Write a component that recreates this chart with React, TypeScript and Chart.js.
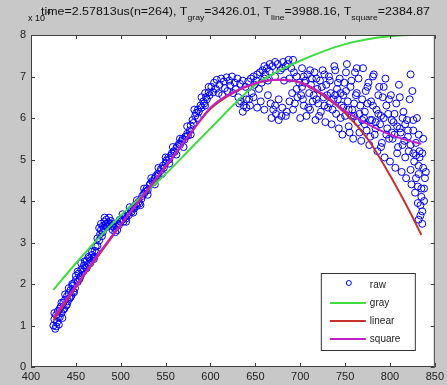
import { useEffect, useRef } from "react";
import { Chart, registerables } from "chart.js";

Chart.register(...registerables);

const rawX = [
  425, 426, 427, 428, 429, 430, 431, 432, 433, 434, 435, 436, 437, 438, 439, 440, 441, 442, 443, 444, 445, 446, 447, 448, 449, 450,
  452, 453, 455, 456, 458, 459, 461, 462, 464, 465, 467, 468, 470, 471, 473, 474, 476, 477, 478, 479, 480, 481, 482, 483, 484, 485,
  486, 487, 488, 489, 490, 491, 492, 493, 494, 495, 496, 497, 498, 499,
  500, 502, 503, 505, 506, 508, 509, 511, 512, 514, 515, 517, 518, 520, 521, 523, 524, 526, 527, 529, 530, 532, 533, 535, 536, 538,
  539, 541, 542, 544, 545, 547, 548, 550, 551, 553, 554, 556, 557, 559, 560, 562, 563, 565, 566, 568, 569, 571, 572, 574, 575, 577,
  578, 580, 581, 583, 584, 586, 587, 589, 590, 592, 593, 595, 596, 598, 599,
  601, 603, 604, 606, 607, 609, 610, 612, 613, 615, 616, 618, 619, 621, 622, 624, 625, 627, 628, 630, 631, 633, 634, 636, 637, 639,
  640, 642, 643, 645, 646, 648, 649, 651, 652, 654, 655, 657, 658, 660, 661, 663, 664, 666, 667, 669, 670, 672, 673, 675, 676, 678,
  679, 681, 682, 684, 685, 687, 688, 690, 691, 693, 694, 696, 697, 699,
  701, 702, 704, 705, 707, 708, 710, 711, 713, 714, 716, 717, 719, 720, 722, 723, 725, 726, 728, 729, 731, 732, 734, 735, 737, 738,
  740, 741, 743, 744, 746, 747, 749, 750, 752, 753, 755, 756, 758, 759, 761, 762, 764, 765, 767, 768, 770, 771, 773, 774, 776, 777,
  779, 780, 782, 783, 785, 786, 788, 789, 791, 792, 794, 795, 797, 798, 800, 801, 803, 804, 806, 807, 809, 810, 812, 813, 815, 816,
  818, 819, 821, 822, 823, 824, 825, 826, 827, 828, 829, 830, 831, 832, 833, 834, 835, 836, 837, 838,
  742, 748, 754, 760, 766, 772, 778, 784, 790, 796, 802, 808, 814, 820, 826, 832,
  702, 703, 706, 709, 712, 715, 718, 721, 724, 727, 730, 733, 736, 739, 742, 745, 748, 751, 754, 757, 760, 763, 766, 769, 772, 775,
  778, 781, 784, 787, 790, 793, 796, 799, 802, 805, 808, 811, 814, 817, 820, 823, 826, 829, 832, 835, 837, 834, 831, 836, 833, 839,
  704, 711, 718, 727, 733, 739, 745, 751, 757, 763, 769, 775, 781, 787, 793, 799, 805, 811, 817, 823, 829, 836, 838, 840, 832,
  426, 428, 430, 432, 434, 436, 438, 440, 442, 444, 446, 448, 450, 452, 454, 456, 458, 460, 462, 464, 466, 468, 470, 472, 474, 476,
  478, 480, 482, 484,
  502, 506, 510, 514, 518, 522, 526, 530, 534, 538, 542, 546, 550, 554, 558, 562, 566, 570, 574, 578, 582, 586, 590, 594, 598, 594,
  632, 636, 640, 644, 648, 652, 656, 660, 664, 668, 672, 676, 680, 684, 688, 692, 696, 700, 660, 666, 672, 680, 686, 692,
];
const rawY = [
  1.0, 1.15, 0.92, 1.25, 1.08, 1.35, 1.02, 1.2, 1.45, 1.3, 1.18, 1.55, 1.4, 1.62, 1.48, 1.7, 1.58, 1.78, 1.65, 1.85, 1.72, 1.95, 1.82, 2.02, 1.9, 2.1,
  2.05, 2.25, 2.18, 2.35, 2.3, 2.45, 2.4, 2.55, 2.48, 2.62, 2.58, 2.7, 2.65, 2.8, 2.75, 2.92, 3.05, 3.2, 3.3, 3.15, 3.4, 3.35, 3.5, 3.42, 3.55, 3.38,
  3.48, 3.6, 3.45, 3.52, 3.4, 3.3, 3.45, 3.35, 3.25, 3.38, 3.3, 3.45, 3.42, 3.55,
  3.5, 3.55, 3.5, 3.62, 3.58, 3.7, 3.66, 3.78, 3.74, 3.85, 3.82, 3.92, 3.88, 3.98, 3.94, 4.05, 4.12, 4.18, 4.22, 4.3, 4.26, 4.38, 4.42, 4.48, 4.45, 4.55,
  4.6, 4.65, 4.62, 4.72, 4.78, 4.85, 4.8, 4.92, 4.98, 5.05, 5.0, 5.1, 5.15, 5.2, 5.18, 5.28, 5.32, 5.38, 5.35, 5.45, 5.5, 5.48, 5.55, 5.62, 5.58, 5.7,
  5.82, 5.95, 5.88, 6.05, 6.12, 6.2, 6.15, 6.3, 6.25, 6.4, 6.35, 6.5, 6.45, 6.62, 6.55,
  6.75, 6.62, 6.85, 6.7, 6.92, 6.6, 6.8, 6.95, 6.55, 6.88, 6.72, 6.98, 6.65, 6.9, 6.78, 7.0, 6.6, 6.85, 6.7, 6.95, 6.5, 6.82, 6.4, 6.9, 6.3, 6.75,
  6.25, 6.88, 6.45, 6.95, 6.6, 7.0, 6.8, 6.9, 7.05, 6.7, 7.1, 6.85, 7.15, 6.95, 7.05, 7.2, 6.9, 7.12, 6.35, 7.25, 6.2, 7.0, 6.1, 7.3, 6.45, 7.15,
  6.05, 7.35, 6.9, 7.25, 6.15, 7.4, 6.95, 7.2, 6.6, 7.1, 6.35, 7.0, 6.5, 6.85,
  6.55, 7.2, 6.3, 6.85, 6.05, 7.05, 6.6, 6.2, 6.95, 6.4, 7.1, 5.95, 6.7, 6.35, 6.9, 6.15, 7.15, 6.5, 5.9, 6.8, 6.25, 7.0, 6.6, 5.85, 6.45, 7.25,
  6.1, 6.7, 5.75, 6.95, 6.3, 5.6, 6.85, 6.05, 7.3, 6.4, 5.65, 6.75, 6.2, 5.5, 7.1, 6.55, 5.9, 6.95, 6.3, 5.45, 7.2, 6.0, 6.65, 5.7, 6.85, 5.35,
  6.4, 5.95, 7.05, 5.6, 6.2, 5.2, 6.75, 5.85, 5.4, 6.5, 5.05, 6.95, 5.75, 6.1, 4.95, 6.55, 5.5, 5.9, 4.8, 6.35, 5.3, 6.8, 5.65, 4.7, 6.15, 5.45,
  4.55, 5.95, 5.2, 6.45, 7.05, 4.4, 6.65, 5.7, 4.95, 4.2, 5.4, 6.0, 3.95, 4.65, 5.2, 3.65, 4.3, 3.45, 5.5, 4.0,
  6.45, 6.55, 6.2, 6.05, 6.1, 5.85, 5.95, 5.75, 6.05, 5.6, 5.65, 5.8, 5.35, 5.55, 5.15, 4.85,
  6.75, 6.45, 6.9, 6.25, 6.8, 6.55, 6.95, 6.05, 6.75, 6.3, 6.55, 6.9, 6.2, 6.55, 6.85, 6.0, 6.25, 6.65, 5.8, 6.9, 6.35, 6.6, 5.65, 6.45, 6.15, 6.75,
  5.55, 6.3, 5.9, 6.55, 5.3, 6.0, 6.3, 5.5, 5.95, 6.1, 5.15, 5.75, 6.0, 5.05, 5.7, 4.75, 5.95, 4.55, 5.6, 4.1, 4.8, 3.9, 4.35, 3.75, 5.05, 4.55,
  7.0, 7.15, 6.45, 7.05, 6.35, 7.15, 6.6, 7.1, 6.05, 7.2, 5.95, 6.35, 7.0, 6.1, 6.75, 6.45, 5.6, 6.5, 5.85, 5.35, 5.1, 5.15, 4.3, 4.7, 3.55,
  1.3, 0.98, 1.2, 1.4, 1.55, 1.38, 1.75, 1.5, 1.9, 1.68, 2.0, 1.8, 2.2, 2.3, 2.12, 2.5, 2.38, 2.55, 2.38, 2.65, 2.5, 2.78, 2.6, 2.9, 3.1, 3.35,
  3.45, 3.25, 3.6, 3.45,
  3.68, 3.5, 3.85, 3.72, 4.02, 3.9, 4.3, 4.15, 4.55, 4.4, 4.8, 4.65, 5.05, 4.9, 5.3, 5.12, 5.5, 5.3, 5.8, 5.6, 6.2, 6.0, 6.5, 6.3, 6.75, 6.6,
  6.35, 6.15, 6.45, 6.3, 6.5, 6.25, 6.4, 6.2, 6.55, 6.0, 6.3, 5.95, 6.25, 6.05, 6.4, 6.2, 6.7, 6.0, 7.25, 7.3, 7.35, 7.2, 7.3, 7.4,
];

const fitX = [425, 450, 475, 500, 525, 550, 575, 600, 625, 650, 675, 700, 725, 750, 775, 800, 825, 835];
const linearY = [1.12, 1.92, 2.68, 3.42, 4.12, 4.82, 5.55, 6.22, 6.6, 6.83, 6.92, 6.85, 6.55, 6.12, 5.5, 4.62, 3.62, 3.18];
const squareY = [1.2, 1.96, 2.72, 3.44, 4.14, 4.84, 5.55, 6.25, 6.62, 6.84, 6.92, 6.86, 6.58, 6.17, 5.85, 5.6, 5.43, 5.38];
const grayX = [425, 450, 475, 500, 525, 550, 575, 600, 625, 650, 675, 700, 725, 750, 775, 800, 825, 840];
const grayY = [1.86, 2.5, 3.1, 3.65, 4.15, 4.65, 5.2, 5.75, 6.3, 6.8, 7.12, 7.38, 7.6, 7.78, 7.9, 7.97, 8.0, 8.0];

const xTicks = [400, 450, 500, 550, 600, 650, 700, 750, 800, 850];
const yTicks = [0, 1, 2, 3, 4, 5, 6, 7, 8];

const seriesLabels = ["raw", "gray", "linear", "square"];
const seriesColors = ["#0000ff", "#3fdc3f", "#c8302c", "#c020c8"];

const titleParts: [string, boolean][] = [
  ["time=2.57813us(n=264), T", false],
  ["gray", true],
  ["=3426.01, T", false],
  ["line", true],
  ["=3988.16, T", false],
  ["square", true],
  ["=2384.87", false],
];
const expLabel = "x 10";
const expSup = "4";

const FONT = "'Liberation Sans', Arial, sans-serif";

export default function App() {
  const ref = useRef<HTMLCanvasElement | null>(null);
  useEffect(() => {
    const canvas = ref.current;
    if (!canvas) return;
    const rawPts = rawX.map((x, i) => ({ x, y: rawY[i] }));
    const linPts = fitX.map((x, i) => ({ x, y: linearY[i] }));
    const sqPts = fitX.map((x, i) => ({ x, y: squareY[i] }));
    const grPts = grayX.map((x, i) => ({ x, y: grayY[i] }));

    const decor = {
      id: "decor",
      beforeDraw(chart: any) {
        const { ctx, chartArea: a, width, height } = chart;
        ctx.save();
        ctx.fillStyle = "#c8c8c8";
        ctx.fillRect(0, 0, width, height);
        ctx.fillStyle = "#ffffff";
        ctx.fillRect(a.left, a.top, a.right - a.left, a.bottom - a.top);
        ctx.restore();
      },
      afterDraw(chart: any) {
        const { ctx, chartArea: a } = chart;
        const xs = chart.scales.x;
        const ys = chart.scales.y;
        ctx.save();
        ctx.strokeStyle = "#404040";
        ctx.lineWidth = 1;
        ctx.strokeRect(a.left + 0.5, a.top + 0.5, a.right - a.left - 1, a.bottom - a.top - 1);
        ctx.beginPath();
        const tl = 4;
        xTicks.forEach((v) => {
          const px = Math.round(xs.getPixelForValue(v)) + 0.5;
          ctx.moveTo(px, a.bottom);
          ctx.lineTo(px, a.bottom - tl);
          ctx.moveTo(px, a.top);
          ctx.lineTo(px, a.top + tl);
        });
        yTicks.forEach((v) => {
          const py = Math.round(ys.getPixelForValue(v)) + 0.5;
          ctx.moveTo(a.left, py);
          ctx.lineTo(a.left + tl, py);
          ctx.moveTo(a.right, py);
          ctx.lineTo(a.right - tl, py);
        });
        ctx.stroke();

        // title with subscripts
        const mainF = `10px ${FONT}`;
        const subF = `7px ${FONT}`;
        let total = 0;
        titleParts.forEach(([t, s]) => {
          ctx.font = s ? subF : mainF;
          total += ctx.measureText(t).width;
        });
        const targetW = 389;
        const startX = 41;
        const sx = targetW / total;
        ctx.translate(startX, 0);
        ctx.scale(sx, 1);
        let cx = 0;
        ctx.fillStyle = "#111";
        ctx.textBaseline = "alphabetic";
        titleParts.forEach(([t, s]) => {
          ctx.font = s ? subF : mainF;
          ctx.fillText(t, cx, s ? 20 : 15);
          cx += ctx.measureText(t).width;
        });
        ctx.setTransform(1, 0, 0, 1, 0, 0);

        // exponent label
        ctx.font = `9px ${FONT}`;
        ctx.fillText(expLabel, 28, 21);
        ctx.font = `7px ${FONT}`;
        ctx.fillText(expSup, 47, 14);

        // legend
        const lw = 94, lh = 77;
        const lx = a.right - 20 - lw;
        const ly = a.bottom - 17 - lh;
        ctx.fillStyle = "#ffffff";
        ctx.fillRect(lx, ly, lw, lh);
        ctx.strokeStyle = "#333";
        ctx.strokeRect(lx + 0.5, ly + 0.5, lw, lh);
        ctx.font = `10px ${FONT}`;
        ctx.textBaseline = "middle";
        seriesLabels.forEach((lab, i) => {
          const ry = ly + 12 + i * 18;
          if (i === 0) {
            ctx.beginPath();
            ctx.strokeStyle = seriesColors[0];
            ctx.arc(lx + 28, ry - 2, 2.5, 0, Math.PI * 2);
            ctx.stroke();
          } else {
            ctx.beginPath();
            ctx.strokeStyle = seriesColors[i];
            ctx.lineWidth = 1.8;
            ctx.moveTo(lx + 9, ry);
            ctx.lineTo(lx + 45, ry);
            ctx.stroke();
            ctx.lineWidth = 1;
          }
          ctx.fillStyle = "#222";
          ctx.fillText(lab, lx + 49, ry);
        });
        ctx.restore();
      },
    };

    const tickFont = { family: FONT, size: 11 };
    const lineDs = (i: number, pts: any[], order: number) => ({
      label: seriesLabels[i],
      data: pts,
      showLine: true,
      borderColor: seriesColors[i],
      borderWidth: 2,
      pointRadius: 0,
      cubicInterpolationMode: "monotone",
      order,
    });
    const chart = new Chart(canvas, {
      type: "scatter",
      data: {
        datasets: [
          {
            label: seriesLabels[0],
            data: rawPts,
            pointRadius: 3.5,
            pointBorderColor: seriesColors[0],
            pointBackgroundColor: "rgba(0,0,0,0)",
            pointBorderWidth: 1,
            showLine: false,
            order: 10,
          },
          lineDs(1, grPts, 3),
          lineDs(2, linPts, 2),
          lineDs(3, sqPts, 1),
        ],
      } as any,
      options: {
        animation: false,
        responsive: true,
        maintainAspectRatio: false,
        layout: { padding: { top: 35, right: 10, left: 0, bottom: 0 } },
        plugins: { legend: { display: false }, tooltip: { enabled: false }, title: { display: false } },
        scales: {
          x: {
            type: "linear",
            min: 400,
            max: 850,
            ticks: { stepSize: 50, font: tickFont, color: "#222", padding: 3, maxRotation: 0, autoSkip: false },
            grid: { display: false, drawTicks: false },
            border: { display: false },
            afterFit: (s: any) => {
              s.height = 18;
            },
          },
          y: {
            type: "linear",
            min: 0,
            max: 8,
            ticks: { stepSize: 1, font: tickFont, color: "#222", padding: 5 },
            grid: { display: false, drawTicks: false },
            border: { display: false },
            afterFit: (s: any) => {
              s.width = 31;
            },
          },
        },
      } as any,
      plugins: [decor],
    });
    return () => chart.destroy();
  }, []);

  return (
    <div style={{ position: "fixed", left: 0, top: 0, width: 447, height: 385 }}>
      <canvas ref={ref} />
    </div>
  );
}
